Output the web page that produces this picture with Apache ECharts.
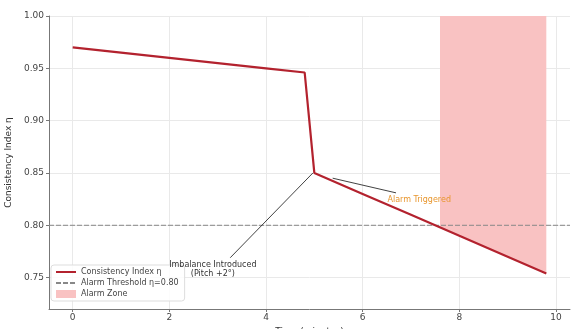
<!DOCTYPE html>
<html><head><meta charset="utf-8">
<script src="https://cdn.jsdelivr.net/npm/echarts@6/dist/echarts.min.js"></script>
<style>html,body{margin:0;padding:0;background:#fff}#c{width:571px;height:329px}</style>
</head><body><div id="c"></div>
<script>
// Data
const timeMin = [0, 1, 2, 3, 4, 4.8, 5.0, 6, 7, 8, 9, 9.8];
const consistency = [0.970, 0.965, 0.960, 0.955, 0.950, 0.946, 0.850, 0.830, 0.810, 0.790, 0.770, 0.754];
const zoneTime = [7.6, 8, 9, 9.8];
const zoneEta = [0.798, 0.790, 0.770, 0.754];
const threshold = 0.80;
const xTicks = [0, 2, 4, 6, 8, 10];
const yTicks = [0.75, 0.80, 0.85, 0.90, 0.95, 1.00];
const xRange = [-0.49, 10.29];
const yRange = [0.72, 1.00];
const imbalanceTip = [4.97, 0.850], imbalanceTail = [3.26, 0.769], imbalanceText = [2.9, 0.758];
const alarmTip = [5.38, 0.845], alarmTail = [6.69, 0.831], alarmText = [7.17, 0.824];

const FONT = 'DejaVu Sans';
const chart = echarts.init(document.getElementById('c'));
const zip = (a, b) => a.map((v, i) => [v, b[i]]);

chart.setOption({
  animation: false,
  textStyle: { fontFamily: FONT },
  grid: { left: 49, right: 1, top: 16, bottom: 20, containLabel: false, outerBoundsMode: 'none' },
  xAxis: {
    type: 'value', min: xRange[0], max: xRange[1],
    name: 'Time (minutes)', nameLocation: 'middle', nameGap: 12,
    nameTextStyle: { fontSize: 9, color: '#333' },
    axisLine: { show: true, onZero: false, lineStyle: { color: '#777' } },
    axisTick: { show: true, customValues: xTicks, length: 3, lineStyle: { color: '#777' } },
    axisLabel: { customValues: xTicks, fontSize: 9, color: '#444', margin: 4 },
    splitLine: { show: false }
  },
  yAxis: {
    type: 'value', min: yRange[0], max: yRange[1],
    name: 'Consistency Index η', nameLocation: 'middle', nameGap: 35,
    nameTextStyle: { fontSize: 9, color: '#333' },
    axisLine: { show: true, onZero: false, lineStyle: { color: '#777' } },
    axisTick: { show: true, customValues: yTicks, length: 3, lineStyle: { color: '#777' } },
    axisLabel: { customValues: yTicks, fontSize: 9, color: '#444', margin: 5, formatter: v => v.toFixed(2) },
    splitLine: { show: false }
  },
  legend: {
    orient: 'vertical', left: 51, top: 265,
    backgroundColor: 'rgba(255,255,255,0.85)', borderColor: '#ddd', borderWidth: 1, borderRadius: 3,
    padding: [3, 6, 3, 4], itemGap: 3, itemWidth: 20, itemHeight: 8,
    textStyle: { fontSize: 8, color: '#444' },
    data: [
      { name: 'Consistency Index η', itemStyle: { opacity: 0 } },
      { name: 'Alarm Threshold η=0.80', itemStyle: { opacity: 0 } },
      { name: 'Alarm Zone', icon: 'rect' }
    ]
  },
  series: [
    {
      name: 'grid', type: 'line', data: [], silent: true, z: 0,
      markLine: {
        silent: true, z: 0, symbol: ['none', 'none'], label: { show: false },
        lineStyle: { color: '#e9e9e9', type: 'solid', width: 1 },
        data: xTicks.map(v => ({ xAxis: v })).concat(yTicks.map(v => ({ yAxis: v })))
      }
    },
    {
      name: 'Alarm Zone', type: 'line', data: zip(zoneTime, zoneEta),
      symbol: 'none', lineStyle: { width: 0 }, itemStyle: { color: '#f9c2c2' },
      areaStyle: { origin: 'end', color: '#f9c2c2', opacity: 1 }, z: 1
    },
    {
      name: 'Alarm Threshold η=0.80', type: 'line', data: [[xRange[0], threshold], [xRange[1], threshold]],
      symbol: 'none', lineStyle: { color: '#888', width: 1, type: [5, 2] }, itemStyle: { color: '#888' }, z: 3
    },
    {
      name: 'Consistency Index η', type: 'line', data: zip(timeMin, consistency),
      symbol: 'none', lineStyle: { color: '#b3222e', width: 2.2 }, itemStyle: { color: '#b3222e' }, z: 5,
      markLine: {
        silent: true, z: 6, symbol: ['none', 'arrow'], symbolSize: [0, 6],
        label: { show: false },
        lineStyle: { color: '#111', width: 0.8, type: 'solid' },
        data: [
          [{ coord: imbalanceTail }, { coord: imbalanceTip }],
          [{ coord: alarmTail }, { coord: alarmTip }]
        ]
      },
      markPoint: {
        silent: true, z: 6, symbol: 'circle', symbolSize: 0,
        data: [
          { coord: imbalanceText, label: { show: true, formatter: 'Imbalance Introduced\n(Pitch +2°)', fontSize: 8, color: '#333', lineHeight: 9, align: 'center', position: 'inside' } },
          { coord: alarmText, label: { show: true, formatter: 'Alarm Triggered', fontSize: 8, color: '#e8962e', align: 'center', position: 'inside' } }
        ]
      }
    }
  ]
});
</script></body></html>
